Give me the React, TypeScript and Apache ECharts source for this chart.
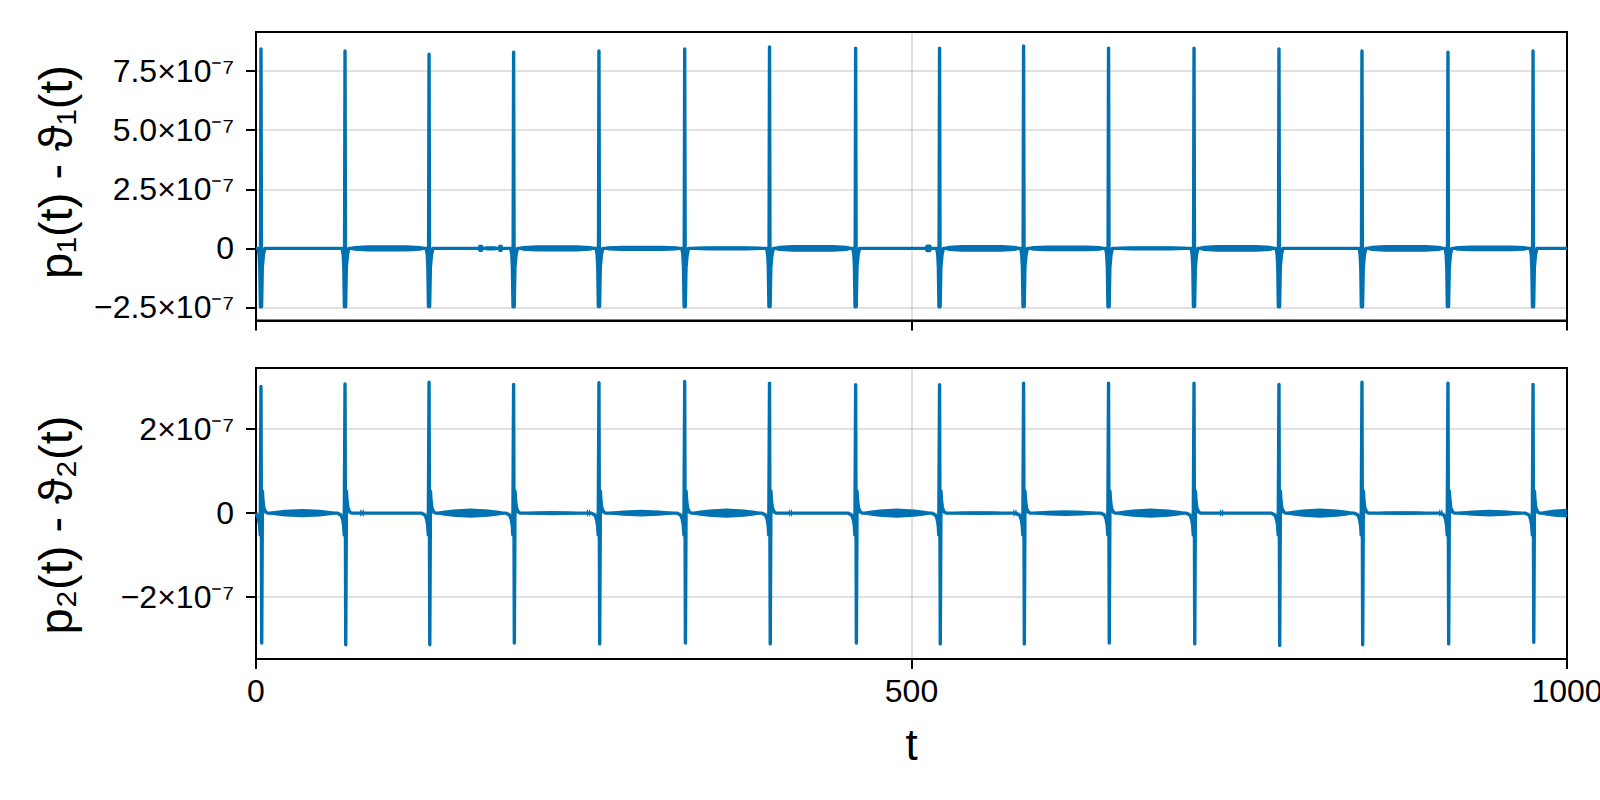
import React, { useEffect, useRef } from "react";
import * as echarts from "echarts";

// ---------- data ----------
const spikeTimes = [3.8, 67.9, 132.0, 196.5, 261.6, 327.0, 391.7, 457.4, 521.4, 585.5, 650.3, 715.5, 780.3, 843.6, 909.2, 974.1];

const topPeaks = [8.43e-7, 8.35e-7, 8.21e-7, 8.3e-7, 8.35e-7, 8.43e-7, 8.52e-7, 8.47e-7, 8.47e-7, 8.56e-7, 8.47e-7, 8.47e-7, 8.43e-7, 8.35e-7, 8.3e-7, 8.35e-7];
const topTroughs = [-2.47e-7, -2.47e-7, -2.46e-7, -2.47e-7, -2.46e-7, -2.47e-7, -2.46e-7, -2.47e-7, -2.47e-7, -2.46e-7, -2.47e-7, -2.46e-7, -2.47e-7, -2.47e-7, -2.46e-7, -2.47e-7];

const bottomPeaks = [3.02e-7, 3.08e-7, 3.12e-7, 3.07e-7, 3.11e-7, 3.14e-7, 3.1e-7, 3.06e-7, 3.06e-7, 3.1e-7, 3.1e-7, 3.1e-7, 3.07e-7, 3.12e-7, 3.1e-7, 3.07e-7];
const bottomTroughs = [-3.1e-7, -3.14e-7, -3.14e-7, -3.1e-7, -3.12e-7, -3.1e-7, -3.12e-7, -3.1e-7, -3.12e-7, -3.12e-7, -3.1e-7, -3.12e-7, -3.16e-7, -3.14e-7, -3.12e-7, -3.08e-7];

// shape of one event around its spike time (offset in t, value or P = peak / Q = trough)
const topShapeDt = [-2.2, -1.4, -0.9, -0.45, 0, 0.45, 1.0, 1.9, 3.0];
const topShapeV: (number | string)[] = [0, -0.25e-7, -0.8e-7, "Q", "P", "Q", -0.8e-7, -0.25e-7, 0];

const bottomShapeDt = [-6, -3, -1.8, -1.0, -0.6, 0, 0.55, 1.1, 1.5, 2.2, 3.5, 5];
const bottomShapeV: (number | string)[] = [0, -0.5e-8, -1.5e-8, -3e-8, -5.2e-8, "P", "Q", 5.2e-8, 3e-8, 1.2e-8, 0.3e-8, 0];

// oscillation envelopes between events: [t start, t end, half thickness]
const topBands = [
  [70.4, 130.0, 1.3e-8],
  [169.3, 173.5, 1.5e-8],
  [173.5, 184.5, 0.85e-8],
  [184.5, 188.4, 1.5e-8],
  [199.0, 259.6, 1.3e-8],
  [264.1, 325.0, 1.1e-8],
  [329.5, 389.7, 0.85e-8],
  [394.2, 455.4, 1.4e-8],
  [510.3, 515.5, 1.6e-8],
  [523.9, 583.5, 1.4e-8],
  [588.0, 648.3, 1.2e-8],
  [652.8, 713.5, 0.85e-8],
  [718.0, 778.3, 1.4e-8],
  [846.1, 907.2, 1.4e-8],
  [911.7, 972.1, 1.2e-8],
];

const bottomBands = [
  [8.8, 61.9, 1.0e-8],
  [79.3, 80.7, 0.9e-8],
  [81.1, 82.5, 0.9e-8],
  [137.0, 190.5, 1.1e-8],
  [201.5, 250.5, 0.5e-8],
  [252.2, 253.4, 0.9e-8],
  [253.8, 255.0, 0.9e-8],
  [266.6, 321.0, 0.8e-8],
  [332.0, 385.7, 1.1e-8],
  [406.3, 407.5, 0.9e-8],
  [407.9, 409.1, 0.9e-8],
  [462.4, 515.4, 1.1e-8],
  [526.4, 576.5, 0.45e-8],
  [577.5, 578.7, 0.9e-8],
  [579.1, 580.3, 0.9e-8],
  [590.5, 644.3, 0.7e-8],
  [655.3, 709.5, 1.1e-8],
  [735.1, 736.3, 0.9e-8],
  [736.7, 737.9, 0.9e-8],
  [785.3, 837.6, 1.1e-8],
  [848.6, 900.5, 0.45e-8],
  [902.3, 903.5, 0.9e-8],
  [903.9, 905.1, 0.9e-8],
  [914.2, 968.1, 0.8e-8],
  [979.1, 1025, 1.1e-8],
];

const xTicks = [0, 500, 1000];
const xTickLabels = ["0", "500", "1000"];
const topTicks = [-2.5e-7, 0, 2.5e-7, 5e-7, 7.5e-7];
const topTickLabels = ["−2.5×10⁻⁷", "0", "2.5×10⁻⁷", "5.0×10⁻⁷", "7.5×10⁻⁷"];
const bottomTicks = [-2e-7, 0, 2e-7];
const bottomTickLabels = ["−2×10⁻⁷", "0", "2×10⁻⁷"];

const topYRange = [-3.05e-7, 9.15e-7];
const bottomYRange = [-3.48e-7, 3.46e-7];
const xRange = [0, 1000];

const topLabel = "p₁(t) - ϑ₁(t)";
const bottomLabel = "p₂(t) - ϑ₂(t)";
const xLabel = "t";

// ---------- styling ----------
const BLUE = "#0072B2";
const FONT = "'Liberation Sans', Arial, Helvetica, sans-serif";

const topProfile = [[0, 0.3], [0.08, 0.8], [0.25, 1], [0.5, 1], [0.75, 1], [0.92, 0.8], [1, 0.3]];
const bottomProfile = [[0, 0.15], [0.1, 0.5], [0.25, 0.8], [0.5, 1], [0.75, 0.8], [0.9, 0.5], [1, 0.15]];

function buildLine(dts: number[], vs: (number | string)[], peaks: number[], troughs: number[]) {
  const pts: number[][] = [[0, 0]];
  spikeTimes.forEach((t0, i) => {
    dts.forEach((dt, k) => {
      const v = vs[k];
      const val = v === "P" ? peaks[i] : v === "Q" ? troughs[i] : (v as number);
      const t = t0 + dt;
      if (t > 0) pts.push([t, val]);
    });
  });
  pts.push([1000, 0]);
  return pts;
}

function bandSeries(bands: number[][], profile: number[][], idx: number) {
  return {
    type: "custom",
    xAxisIndex: idx,
    yAxisIndex: idx,
    clip: true,
    silent: true,
    z: 2,
    data: bands,
    encode: { x: [0, 1], y: 2 },
    renderItem: (_p: any, api: any) => {
      const ts = api.value(0);
      const te = api.value(1);
      const h = api.value(2);
      const upper: number[][] = [];
      const lower: number[][] = [];
      profile.forEach(([f, a]) => {
        const t = ts + f * (te - ts);
        upper.push(api.coord([t, h * a]));
        lower.unshift(api.coord([t, -h * a]));
      });
      return {
        type: "polygon",
        shape: { points: upper.concat(lower) },
        style: { fill: BLUE },
      };
    },
  };
}

function fmt(ticks: number[], labels: string[]) {
  return (v: number) => {
    for (let i = 0; i < ticks.length; i++) {
      if (Math.abs(ticks[i] - v) < 1e-12) return labels[i];
    }
    return "";
  };
}

const black = { color: "#000", width: 2 };
const gridLine = { show: true, lineStyle: { color: "rgba(0,0,0,0.12)", width: 2 } };

function xAxisOf(idx: number, showLabels: boolean) {
  return {
    type: "value",
    gridIndex: idx,
    min: xRange[0],
    max: xRange[1],
    interval: 500,
    axisLine: { show: true, onZero: false, lineStyle: black },
    axisTick: { show: true, inside: false, length: 10, lineStyle: black, customValues: xTicks },
    axisLabel: {
      show: showLabels,
      customValues: xTicks,
      formatter: fmt(xTicks, xTickLabels),
      fontSize: 32,
      color: "#000",
      fontFamily: FONT,
      margin: 16,
      showMinLabel: true,
      showMaxLabel: true,
    },
    splitLine: gridLine,
  };
}

function yAxisOf(idx: number, range: number[], ticks: number[], labels: string[]) {
  return {
    type: "value",
    gridIndex: idx,
    min: range[0],
    max: range[1],
    axisLine: { show: true, onZero: false, lineStyle: black },
    axisTick: { show: true, inside: false, length: 10, lineStyle: black, customValues: ticks },
    axisLabel: {
      customValues: ticks,
      formatter: fmt(ticks, labels),
      fontSize: 32,
      color: "#000",
      fontFamily: FONT,
      margin: 22,
    },
    splitLine: gridLine,
  };
}

export default function App() {
  const ref = useRef<HTMLDivElement>(null);
  useEffect(() => {
    if (!ref.current) return;
    const chart = echarts.init(ref.current, undefined, { renderer: "svg" });
    const gridBase = {
      left: 256,
      width: 1311,
      show: true,
      borderColor: "#000",
      borderWidth: 2,
      backgroundColor: "transparent",
      containLabel: false,
      outerBoundsMode: "none",
    };
    const lineStyle = { color: BLUE, width: 3.4, join: "round" };
    chart.setOption({
      animation: false,
      backgroundColor: "#fff",
      grid: [
        { ...gridBase, top: 32, height: 288.5 },
        { ...gridBase, top: 368, height: 291 },
      ],
      xAxis: [xAxisOf(0, false), xAxisOf(1, true)],
      yAxis: [
        yAxisOf(0, topYRange, topTicks, topTickLabels),
        yAxisOf(1, bottomYRange, bottomTicks, bottomTickLabels),
      ],
      series: [
        bandSeries(topBands, topProfile, 0),
        bandSeries(bottomBands, bottomProfile, 1),
        {
          type: "line",
          xAxisIndex: 0,
          yAxisIndex: 0,
          data: buildLine(topShapeDt, topShapeV, topPeaks, topTroughs),
          showSymbol: false,
          symbol: "none",
          clip: true,
          z: 3,
          lineStyle,
        },
        {
          type: "line",
          xAxisIndex: 1,
          yAxisIndex: 1,
          data: buildLine(bottomShapeDt, bottomShapeV, bottomPeaks, bottomTroughs),
          showSymbol: false,
          symbol: "none",
          clip: true,
          z: 3,
          lineStyle,
        },
      ],
      graphic: [
        {
          type: "text",
          x: 55,
          y: 172,
          rotation: Math.PI / 2,
          style: { text: topLabel, fontSize: 47, fontFamily: FONT, fill: "#000", align: "center", verticalAlign: "middle" },
        },
        {
          type: "text",
          x: 55,
          y: 525,
          rotation: Math.PI / 2,
          style: { text: bottomLabel, fontSize: 47, fontFamily: FONT, fill: "#000", align: "center", verticalAlign: "middle" },
        },
        {
          type: "text",
          x: 911.5,
          y: 744,
          style: { text: xLabel, fontSize: 44, fontFamily: FONT, fill: "#000", align: "center", verticalAlign: "middle" },
        },
      ],
    });
    return () => chart.dispose();
  }, []);
  return <div ref={ref} style={{ position: "fixed", left: 0, top: 0, width: 1600, height: 800 }} />;
}
